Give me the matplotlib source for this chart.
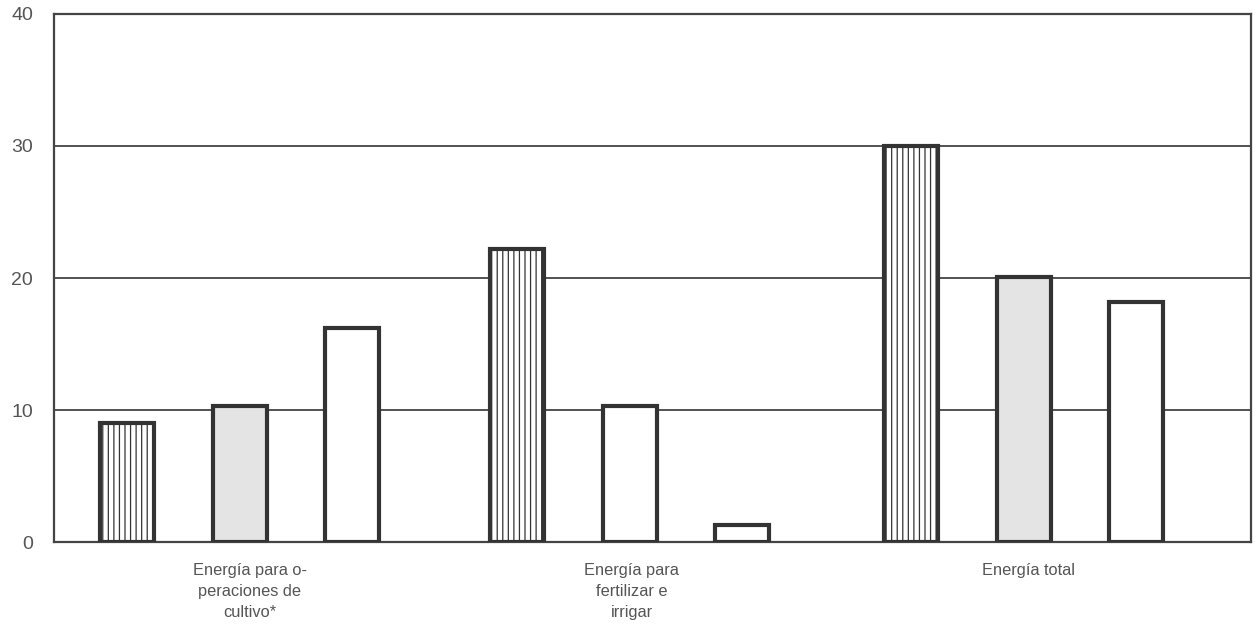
import matplotlib
matplotlib.use("Agg")
import matplotlib.pyplot as plt
import numpy as np

categories = ["Energía para o-\nperaciones de\ncultivo*",
              "Energía para\nfertilizar e\nirrigar",
              "Energía total"]
series_a = [9.0, 22.2, 30.0]    # hatched bars
series_b = [10.3, 10.3, 20.1]   # second bars
series_c = [16.2, 1.3, 18.2]    # white bars
fill_b = ["#e4e4e4", "white", "#e4e4e4"]
yticks = [0, 10, 20, 30, 40]

plt.rcParams['font.family'] = ['Liberation Sans', 'DejaVu Sans']
plt.rcParams['hatch.linewidth'] = 0.9
plt.rcParams['hatch.color'] = '#333333'

fig = plt.figure(figsize=(12.57, 6.29), dpi=100)
ax = fig.add_axes([0.043, 0.138, 0.952, 0.840])

x = np.array([0.0, 0.995, 2.0])
off = 0.287
w = 0.138
ec = '#333333'
lw = 3.0

ax.bar(x - off, series_a, w, facecolor='white', edgecolor=ec, linewidth=lw,
       hatch='|||', zorder=3)
ax.bar(x, series_b, w, color=fill_b, edgecolor=ec, linewidth=lw, zorder=3)
ax.bar(x + off, series_c, w, facecolor='white', edgecolor=ec, linewidth=lw, zorder=3)

ax.set_xlim(-0.474, 2.579)
ax.set_ylim(0, 40)
ax.set_yticks(yticks)
ax.set_yticklabels([str(t) for t in yticks], color='#555555', fontsize=14)
ax.set_xticks(x + np.array([0.025, 0.005, 0.012]))
ax.set_xticklabels(categories, color='#555555', fontsize=11.8, linespacing=1.5)
ax.tick_params(axis='both', length=0)
ax.tick_params(axis='y', pad=15)
ax.tick_params(axis='x', pad=15)

ax.yaxis.grid(True, color='#444444', linewidth=1.3, zorder=1)
for s in ['left', 'right', 'top', 'bottom']:
    ax.spines[s].set_color('#444444')
    ax.spines[s].set_linewidth(1.6)

fig.savefig("out.png", dpi=100)
